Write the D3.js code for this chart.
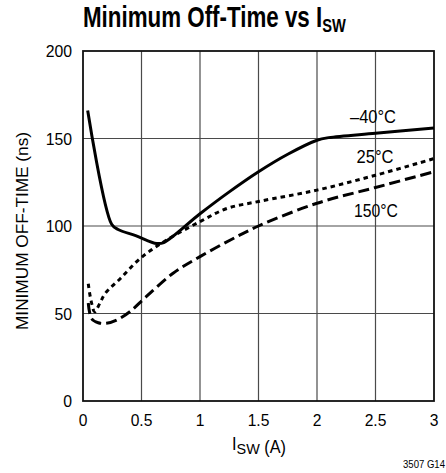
<!DOCTYPE html>
<html>
<head>
<meta charset="utf-8">
<script src="https://cdn.jsdelivr.net/npm/d3@7"></script>
<style>
  html, body { margin: 0; padding: 0; background: #fff; }
  svg { display: block; }
  text { font-family: "Liberation Sans", Arial, sans-serif; fill: #000; }
</style>
</head>
<body>
<svg id="chart" width="446" height="473"></svg>
<script>
// ---- data ----
const xTicks = [0, 0.5, 1, 1.5, 2, 2.5, 3];
const xTickLabels = ["0", "0.5", "1", "1.5", "2", "2.5", "3"];
const yTicks = [0, 50, 100, 150, 200];
const yTickLabels = ["0", "50", "100", "150", "200"];

const isw_m40 = [0.04, 0.245, 0.30, 0.45, 0.63, 0.69, 1.0, 1.25, 1.5, 1.75, 2.0, 2.1, 2.5, 3.0];
const toff_m40 = [166, 101, 98, 94.5, 90, 90.5, 107, 119.5, 131, 141, 149, 150.5, 153, 156];

const isw_25 = [0.045, 0.07, 0.10, 0.145, 0.19, 0.32, 0.49, 0.715, 1.0, 1.23, 1.5, 2.0, 2.5, 3.0];
const toff_25 = [67, 57, 51, 56, 61.5, 70, 81.5, 92, 102.5, 110, 114, 120.5, 129, 138.5];

const isw_150 = [0.045, 0.074, 0.13, 0.2, 0.29, 0.40, 0.54, 0.77, 1.0, 1.26, 1.5, 2.0, 2.5, 3.0];
const toff_150 = [56, 47, 44.7, 44.4, 46.3, 51, 59.6, 73, 82.5, 92, 100, 113, 122, 131];

const seriesNames = ["–40°C", "25°C", "150°C"];

// ---- layout ----
const svg = d3.select("#chart");
const L = 83, R = 434, T = 51, B = 401;
const x = d3.scaleLinear().domain([0, 3]).range([L, R]);
const y = d3.scaleLinear().domain([0, 200]).range([B, T]);

// scaled-text helper (condensed look)
function stext(parent, px, py, str, size, opts = {}) {
  const g = parent.append("g").attr("transform", `translate(${px},${py})${opts.rotate ? ` rotate(${opts.rotate})` : ""}`);
  const t = g.append("text")
    .attr("font-size", size)
    .attr("font-weight", opts.weight || "normal")
    .attr("text-anchor", opts.anchor || "start")
    .text(str);
  if (opts.width) {
    const w = t.node().getComputedTextLength();
    t.attr("transform", `scale(${opts.width / w},1)`);
  } else if (opts.sx) {
    t.attr("transform", `scale(${opts.sx},1)`);
  }
  return t;
}

// grid
const grid = svg.append("g");
grid.selectAll("line.v").data(xTicks.slice(1, -1)).join("line")
  .attr("x1", d => x(d)).attr("x2", d => x(d))
  .attr("y1", T).attr("y2", B)
  .attr("stroke", "#4a4a4a").attr("stroke-width", 1.2);
grid.selectAll("line.h").data(yTicks.slice(1, -1)).join("line")
  .attr("x1", L).attr("x2", R)
  .attr("y1", d => y(d)).attr("y2", d => y(d))
  .attr("stroke", "#4a4a4a").attr("stroke-width", 1.2);

// frame
svg.append("rect").attr("x", L).attr("y", T).attr("width", R - L).attr("height", B - T)
  .attr("fill", "none").attr("stroke", "#111").attr("stroke-width", 1.8);

// curves
const line = d3.line().x(d => x(d[0])).y(d => y(d[1])).curve(d3.curveCatmullRom.alpha(0.5));
const mk = (xs, ys) => xs.map((v, i) => [v, ys[i]]);
const series = [
  { pts: mk(isw_m40, toff_m40), dash: null },
  { pts: mk(isw_25, toff_25), dash: "4.5,4" },
  { pts: mk(isw_150, toff_150), dash: "11,5" }
];
svg.append("g").selectAll("path").data(series).join("path")
  .attr("d", d => line(d.pts))
  .attr("fill", "none").attr("stroke", "#000").attr("stroke-width", 3)
  .attr("stroke-dasharray", d => d.dash);

// tick labels
const yAxisG = svg.append("g");
yTicks.forEach((v, i) => {
  stext(yAxisG, 72, y(v) + 6, yTickLabels[i], 17, { anchor: "end", sx: 0.93 });
});
const xAxisG = svg.append("g");
xTicks.forEach((v, i) => {
  stext(xAxisG, x(v), 426, xTickLabels[i], 17, { anchor: "middle", sx: 0.92 });
});

// series labels
stext(svg, 373, 123, seriesNames[0], 17.5, { anchor: "middle", width: 46 });
stext(svg, 375, 163, seriesNames[1], 17.5, { anchor: "middle", width: 37 });
stext(svg, 376, 217, seriesNames[2], 17.5, { anchor: "middle", width: 44 });

// title
const tg = svg.append("g").attr("transform", "translate(83,27)");
const tt = tg.append("text").attr("font-size", 29).attr("font-weight", "bold");
tt.append("tspan").text("Minimum Off-Time vs I");
tt.append("tspan").attr("font-size", 19).attr("dy", 5).text("SW");
{
  const w = tt.node().getBBox().width;
  tt.attr("transform", `scale(${263 / w},1)`);
}

// x axis title
const xg = svg.append("g").attr("transform", "translate(232,450)");
const xt = xg.append("text").attr("font-size", 17.5);
xt.append("tspan").text("I");
xt.append("tspan").attr("font-size", 15.5).attr("dy", 4).text("SW");
xt.append("tspan").attr("dy", -1).text(" (A)");
{
  const w = xt.node().getBBox().width;
  xt.attr("transform", `scale(${54 / w},1)`);
}

// y axis title
stext(svg, 28, 231, "MINIMUM OFF-TIME (ns)", 17, { anchor: "middle", rotate: -90, width: 198 });

// figure id
stext(svg, 445, 468, "3507 G14", 11, { anchor: "end", width: 42 });
</script>
</body>
</html>
